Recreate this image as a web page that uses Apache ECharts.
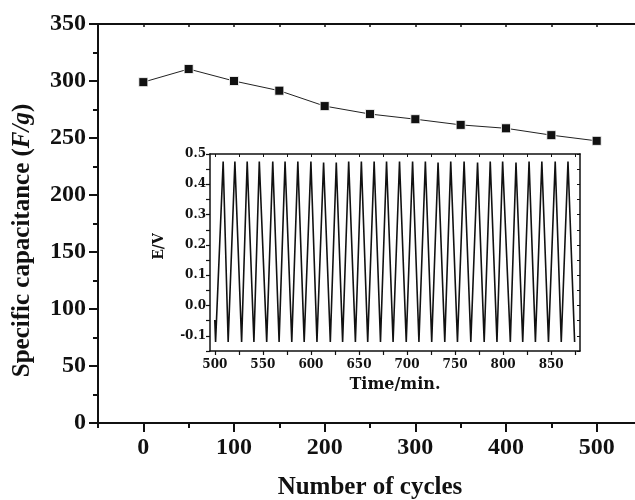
<!DOCTYPE html>
<html>
<head>
<meta charset="utf-8">
<script src="https://cdn.jsdelivr.net/npm/echarts@6/dist/echarts.min.js"></script>
<style>
  html, body { margin: 0; padding: 0; background: #fff; }
  #chart { width: 635px; height: 500px; }
</style>
</head>
<body>
<div id="chart"></div>
<script>
// Specific capacitance versus cycle number
const cycles = [0, 50, 100, 150, 200, 250, 300, 350, 400, 450, 500];
const capacitance = [299, 310.5, 300, 291.5, 278, 271, 266.5, 261.5, 258.5, 252.5, 247.5];
const cycleLabels = [0, 100, 200, 300, 400, 500];

// Inset: galvanostatic charge/discharge potential (E/V) over time (min)
const insetTime = [
  500.0, 500.8,
  508.7, 513.9, 520.9, 527.9, 533.7, 540.7, 546.3, 554.0, 560.3, 566.9,
  573.1, 580.1, 586.4, 593.0, 600.0, 606.3, 613.2, 620.2, 626.4, 633.0,
  639.3, 646.3, 652.5, 659.1, 665.8, 672.4, 678.7, 685.5, 692.2, 699.2,
  705.8, 712.4, 719.1, 725.7, 732.3, 739.3, 745.5, 752.5, 759.4, 766.4,
  773.4, 780.3, 786.6, 793.6, 799.5, 807.5, 813.4, 820.4, 827.0, 833.6,
  840.3, 847.2, 854.2, 860.5, 867.5, 874.4
];
const insetPotential = [
  -0.048, -0.12,
  0.475, -0.12, 0.475, -0.12, 0.475, -0.12, 0.475, -0.12, 0.475, -0.12,
  0.475, -0.12, 0.475, -0.12, 0.475, -0.12, 0.472, -0.12, 0.472, -0.12,
  0.475, -0.12, 0.475, -0.12, 0.475, -0.12, 0.475, -0.12, 0.475, -0.12,
  0.475, -0.12, 0.475, -0.12, 0.472, -0.12, 0.475, -0.12, 0.475, -0.12,
  0.472, -0.12, 0.475, -0.12, 0.475, -0.12, 0.472, -0.12, 0.475, -0.12,
  0.475, -0.12, 0.475, -0.12, 0.475, -0.12
];
const insetTimeLabels = [500, 550, 600, 650, 700, 750, 800, 850];
const insetTimeTicks = [500, 525, 550, 575, 600, 625, 650, 675, 700, 725, 750, 775, 800, 825, 850, 875];
const insetPotentialLabels = [-0.1, 0.0, 0.1, 0.2, 0.3, 0.4, 0.5];
const insetPotentialTicks = [-0.15, -0.1, -0.05, 0.0, 0.05, 0.1, 0.15, 0.2, 0.25, 0.3, 0.35, 0.4, 0.45, 0.5];

const INK = '#111';
const MAIN_FONT = 'Liberation Serif';
const INSET_FONT = 'DejaVu Serif';

const chart = echarts.init(document.getElementById('chart'), null, { renderer: 'canvas' });

const mainSeries = cycles.map((c, i) => [c, capacitance[i]]);
const insetSeries = insetTime.map((t, i) => [t, insetPotential[i]]);

chart.setOption({
  animation: false,
  backgroundColor: '#fff',
  grid: [
    { left: 98, top: 24, right: -7, bottom: 77, containLabel: false, outerBoundsMode: 'none' },
    { left: 210, top: 154, right: 55, bottom: 149, containLabel: false, outerBoundsMode: 'none' }
  ],
  xAxis: [
    {
      // main bottom axis: labels and major ticks
      type: 'value', gridIndex: 0, position: 'bottom', min: -50, max: 550,
      name: 'Number of cycles', nameLocation: 'middle', nameGap: 52,
      nameTextStyle: { fontFamily: MAIN_FONT, fontWeight: 'bold', fontSize: 25, color: INK },
      axisLine: { show: true, onZero: false, lineStyle: { color: INK, width: 2 } },
      axisTick: { show: true, inside: false, length: 9, lineStyle: { color: INK, width: 2 }, customValues: cycleLabels },
      axisLabel: { show: true, margin: 13, fontFamily: MAIN_FONT, fontWeight: 'bold', fontSize: 24, color: INK, customValues: cycleLabels },
      splitLine: { show: false }
    },
    {
      // main bottom axis: minor ticks
      type: 'value', gridIndex: 0, position: 'bottom', min: -50, max: 550, interval: 50,
      axisLine: { show: false, onZero: false },
      axisTick: { show: true, inside: false, length: 5, lineStyle: { color: INK, width: 2 } },
      axisLabel: { show: false },
      splitLine: { show: false }
    },
    {
      // main top frame
      type: 'value', gridIndex: 0, position: 'top', min: -50, max: 550, interval: 50,
      axisLine: { show: true, onZero: false, lineStyle: { color: INK, width: 2 } },
      axisTick: { show: true, inside: true, length: 3, lineStyle: { color: INK, width: 1.5 } },
      axisLabel: { show: false },
      splitLine: { show: false }
    },
    {
      // inset bottom axis
      type: 'value', gridIndex: 1, position: 'bottom', min: 495, max: 880,
      name: 'Time/min.', nameLocation: 'middle', nameGap: 26,
      nameTextStyle: { fontFamily: INSET_FONT, fontWeight: 'bold', fontSize: 16, color: INK },
      axisLine: { show: true, onZero: false, lineStyle: { color: INK, width: 1.5 } },
      axisTick: { show: true, inside: false, length: 4, lineStyle: { color: INK, width: 1.2 }, customValues: insetTimeTicks },
      axisLabel: { show: true, margin: 8, fontFamily: INSET_FONT, fontWeight: 'bold', fontSize: 12, color: INK, customValues: insetTimeLabels },
      splitLine: { show: false }
    },
    {
      // inset top frame
      type: 'value', gridIndex: 1, position: 'top', min: 495, max: 880,
      axisLine: { show: true, onZero: false, lineStyle: { color: INK, width: 1.5 } },
      axisTick: { show: true, inside: true, length: 3, lineStyle: { color: INK, width: 1 }, customValues: insetTimeTicks },
      axisLabel: { show: false },
      splitLine: { show: false }
    }
  ],
  yAxis: [
    {
      type: 'value', gridIndex: 0, position: 'left', min: 0, max: 350, interval: 50,
      name: 'Specific capacitance ({i|F/g})', nameLocation: 'middle', nameGap: 63, nameRotate: 90,
      nameTextStyle: {
        fontFamily: MAIN_FONT, fontWeight: 'bold', fontSize: 25, color: INK,
        padding: [0, 34, 0, 0],
        rich: { i: { fontFamily: MAIN_FONT, fontWeight: 'bold', fontStyle: 'italic', fontSize: 25, color: INK } }
      },
      axisLine: { show: true, onZero: false, lineStyle: { color: INK, width: 2 } },
      axisTick: { show: true, inside: false, length: 9, lineStyle: { color: INK, width: 2 } },
      minorTick: { show: true, splitNumber: 2, length: 5, lineStyle: { color: INK, width: 2 } },
      axisLabel: { show: true, margin: 12, fontFamily: MAIN_FONT, fontWeight: 'bold', fontSize: 24, color: INK },
      splitLine: { show: false }
    },
    {
      // inset left axis
      type: 'value', gridIndex: 1, position: 'left', min: -0.15, max: 0.5,
      name: 'E/V', nameLocation: 'middle', nameGap: 44, nameRotate: 90,
      nameTextStyle: { fontFamily: INSET_FONT, fontWeight: 'bold', fontSize: 14, color: INK, padding: [0, 0, 0, 12] },
      axisLine: { show: true, onZero: false, lineStyle: { color: INK, width: 1.5 } },
      axisTick: { show: true, inside: false, length: 4, lineStyle: { color: INK, width: 1.2 }, customValues: insetPotentialTicks },
      axisLabel: {
        show: true, margin: 4, fontFamily: INSET_FONT, fontWeight: 'bold', fontSize: 12, color: INK,
        customValues: insetPotentialLabels,
        formatter: v => v.toFixed(1)
      },
      splitLine: { show: false }
    },
    {
      // inset right frame
      type: 'value', gridIndex: 1, position: 'right', min: -0.15, max: 0.5,
      axisLine: { show: true, onZero: false, lineStyle: { color: INK, width: 1.5 } },
      axisTick: { show: true, inside: true, length: 3, lineStyle: { color: INK, width: 1 }, customValues: insetPotentialTicks },
      axisLabel: { show: false },
      splitLine: { show: false }
    }
  ],
  series: [
    {
      type: 'line', xAxisIndex: 0, yAxisIndex: 0, data: mainSeries,
      symbol: 'rect', symbolSize: 9,
      lineStyle: { color: '#222', width: 1 },
      itemStyle: { color: INK, borderColor: '#fff', borderWidth: 0.8 },
      z: 3
    },
    {
      type: 'line', xAxisIndex: 3, yAxisIndex: 1, data: insetSeries,
      symbol: 'none',
      lineStyle: { color: INK, width: 1.6, join: 'miter' },
      z: 6
    }
  ]
});
</script>
</body>
</html>
